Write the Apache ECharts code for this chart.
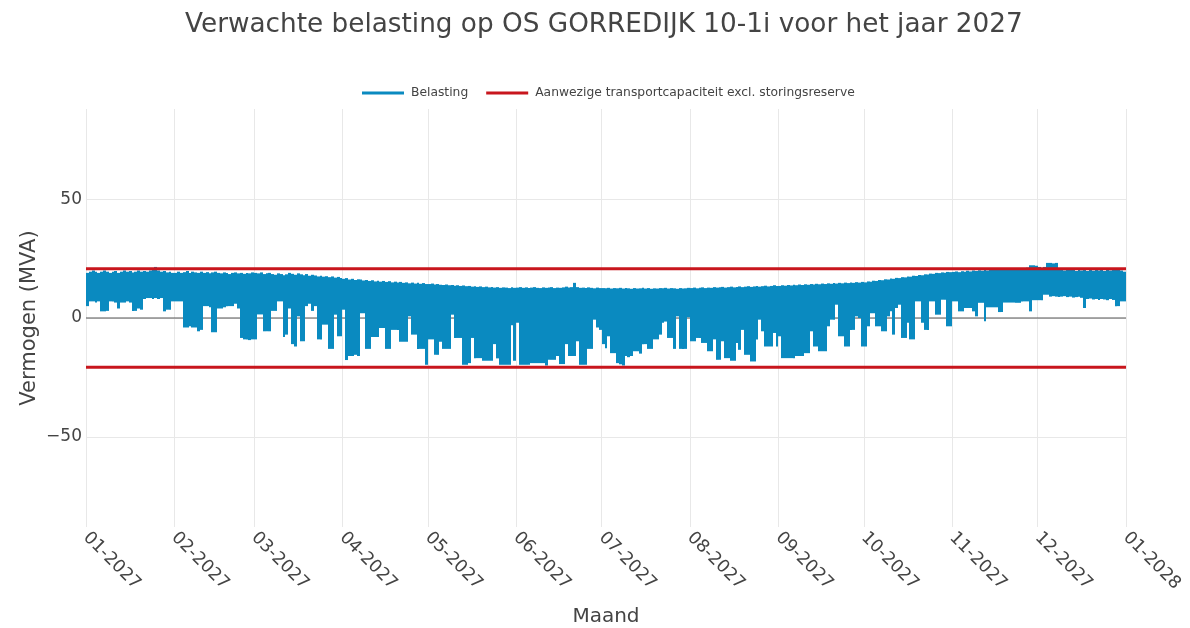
<!DOCTYPE html>
<html>
<head>
<meta charset="utf-8">
<title>Verwachte belasting OS GORREDIJK 10-1i 2027</title>
<script src="https://cdn.jsdelivr.net/npm/echarts@6.0.0/dist/echarts.min.js"></script>
<style>
  html, body { margin: 0; padding: 0; background: #ffffff; }
  #chart { width: 1190px; height: 628px; }
</style>
</head>
<body>
<div id="chart"></div>
<script>
  // dag-index van de eerste dag van elke maand (0 = 1 jan 2027)
  var monthStarts = [0, 31, 59, 90, 120, 151, 181, 212, 243, 273, 304, 334, 365]
  var monthLabels = ['01-2027', '02-2027', '03-2027', '04-2027', '05-2027', '06-2027',
    '07-2027', '08-2027', '09-2027', '10-2027', '11-2027', '12-2027', '01-2028']
  var yTicks = [-50, 0, 50]

  // hoogste belasting per dag (MVA)
  var dailyMax = [
    // jan
    19, 19.5, 20, 19.5, 19, 19.5, 20, 19.5, 19, 19.5, 19.8, 19, 19.5, 20, 19.5, 19.8, 19.2, 19.5, 20, 19.5, 19.8, 19.5, 20, 21, 21.5, 20, 19.5, 19.8, 19.2, 19.5, 19,
    // feb
    19, 19.5, 19, 19.3, 19.8, 19, 19.5, 19.2, 19, 19.5, 19, 19.3, 18.8, 19.2, 19.5, 19, 18.8, 19.2, 19, 18.5, 19, 19.2, 18.8, 19, 18.6, 19, 18.8, 19.2,
    // mrt
    19, 18.8, 19.2, 18.5, 18.8, 19, 18.5, 18.2, 18.8, 18.5, 18, 18.4, 19, 18.6, 18.2, 18.8, 18.4, 18, 18.5, 17.8, 18.2, 17.9, 17.5, 17.8, 17.4, 17.6, 17.2, 17.5, 17, 17.3, 16.8,
    // apr
    16.5, 16.8, 16.2, 16.5, 16, 16.3, 16.2, 15.8, 16, 15.6, 15.9, 15.4, 15.7, 15.3, 15.6, 15.2, 15.5, 15, 15.3, 14.9, 15.2, 14.8, 15, 14.6, 14.9, 14.5, 14.8, 14.4, 14.7, 14.3,
    // mei
    14.3, 14.5, 14.1, 14.3, 14, 13.9, 14.1, 13.8, 13.9, 13.6, 13.8, 13.5, 13.7, 13.4, 13.5, 13.2, 13.4, 13.1, 13.3, 13, 13.2, 12.9, 13.1, 12.8, 13, 12.7, 12.9, 12.8, 12.6, 12.9, 12.7,
    // jun
    12.8, 13, 12.7, 12.9, 12.6, 12.8, 13, 12.7, 12.6, 12.9, 12.7, 12.8, 13, 12.6, 12.8, 12.7, 12.9, 13.2, 12.8, 13, 14.8, 13, 12.7, 12.8, 12.6, 12.9, 12.7, 12.5, 12.8, 12.6,
    // jul
    12.6, 12.5, 12.7, 12.4, 12.6, 12.5, 12.7, 12.4, 12.6, 12.5, 12.3, 12.6, 12.4, 12.5, 12.7, 12.4, 12.6, 12.3, 12.5, 12.4, 12.6, 12.5, 12.7, 12.4, 12.6, 12.5, 12.3, 12.6, 12.4, 12.5, 12.7,
    // aug
    12.6, 12.8, 12.5, 12.7, 12.9, 12.6, 12.8, 12.7, 13, 12.8, 12.9, 13.1, 12.8, 13, 13.2, 12.9, 13.1, 13.3, 13, 13.2, 13.4, 13.1, 13.3, 13.5, 13.2, 13.4, 13.6, 13.3, 13.5, 13.8, 13.5,
    // sep
    13.5, 13.8, 13.6, 13.9, 13.7, 14, 13.8, 14.1, 13.9, 14.2, 14, 14.3, 14.1, 14.4, 14.2, 14.5, 14.3, 14.6, 14.4, 14.7, 14.5, 14.8, 14.6, 14.9, 14.7, 15, 14.8, 15.1, 14.9, 15.2,
    // okt
    15, 15.4, 15.3, 15.7, 15.6, 16, 15.9, 16.3, 16.2, 16.6, 16.5, 16.9, 16.8, 17.2, 17.1, 17.5, 17.4, 17.8, 17.7, 18.1, 18, 18.4, 18.3, 18.7, 18.6, 19, 18.9, 19.2, 19.1, 19.4, 19.3,
    // nov
    19.4, 19.6, 19.3, 19.7, 19.5, 19.9, 19.6, 20, 19.8, 20.1, 19.9, 20.3, 20, 20.4, 20.2, 20.5, 20.3, 20.6, 20.4, 20.8, 20.5, 20.9, 21, 20.7, 21.1, 20.9, 21.2, 22.2, 22.2, 22,
    // dec
    21.5, 21, 21.5, 23.2, 23.2, 23, 23.2, 21, 20.5, 20, 20.8, 20.2, 20.5, 19.8, 20.3, 20, 20.6, 19.8, 20.2, 19.9, 20.5, 20, 20.3, 19.8, 20.5, 20, 21, 20.2, 21, 20, 19.5
  ]

  // laagste belasting per dag (MVA), negatief = teruglevering
  var dailyMin = [
    // jan
    5, 7, 7, 6.5, 7, 2.8, 2.8, 3, 7, 7, 6.5, 4, 6.5, 6.5, 7, 6.5, 3, 3, 4, 3.5, 8, 8.4, 8.4, 8, 8.4, 8, 8.4, 2.8, 3.5, 3.5, 7,
    // feb
    7, 7, 7, -4, -4, -3.5, -4, -4, -5.6, -5, 5, 5, 4.5, -6, -6, 4, 4, 4.5, 5, 5, 5, 6, 4, -8.4, -9, -9, -9.3, -9,
    // mrt
    -9, 1.5, 1.5, -5.6, -5.6, -5.6, 3, 3, 7, 7, -8, -7, 4, -11, -12, 0.7, -9.8, -9.8, 5, 6, 3, 5, -9, -9, -2.8, -2.8, -13, -13, 1.4, -7.7, -7.7,
    // apr
    3.5, -17.7, -16, -16, -15.5, -16, 2, 2, -13, -13, -8, -8, -8, -4.2, -4.2, -13, -13, -5, -5, -5, -10, -10, -10, 0.7, -7, -7, -13, -13, -13, -19.7,
    // mei
    -9, -9, -15.5, -15.5, -10, -13, -13, -13, 1.4, -8.4, -8.4, -8.4, -19.7, -19.7, -19, -8.4, -16.9, -16.9, -16.9, -18, -18, -18, -18, -11, -17, -19.7, -19.7, -19.7, -19.7, -3, -18,
    // jun
    -2, -19.7, -19.7, -19.7, -19.7, -19, -19, -19, -19, -19, -20, -17.6, -17.6, -17.6, -16, -19.4, -19.4, -11, -16, -16, -16, -9.8, -19.7, -19.7, -19.7, -13, -13, -0.7, -4, -5,
    // jul
    -11, -12.7, -7.7, -14.8, -14.8, -19, -19.5, -20, -16, -16.5, -16, -14, -14, -15, -11, -11, -13, -13, -9, -9, -7, -2, -1.5, -8.4, -8.4, -13, 0.7, -13, -13, -13, 0.3,
    // aug
    -9.8, -9.8, -8.4, -8.4, -10.5, -10.5, -14, -14, -9, -17.6, -17.6, -9.8, -16.9, -16.9, -18, -18, -10.5, -13.4, -5, -15.5, -15.5, -18.3, -18.3, -9, -0.7, -5.6, -12, -12, -12, -6.3, -12,
    // sep
    -7.7, -16.9, -16.9, -16.9, -16.9, -16.9, -16, -16, -16, -14.8, -14.8, -5.6, -12, -12, -14, -14, -14, -3.5, -0.7, -0.7, 5.6, -7.7, -7.7, -12, -12, -5, -5, 0.7, 0, -12,
    // okt
    -12, -3.5, 2, 2, -3.5, -3.5, -5.6, -5.6, 0.7, 2.8, -7, 4.2, 5.6, -8.4, -8.4, -2, -9, -9, 7, 7, -2, -5, -5, 7, 7, 1.4, 1.4, 7.7, 7.7, -3.5, -3.5,
    // nov
    7, 7, 2.8, 2.8, 4.2, 4.2, 4.2, 2.8, 0.7, 6.4, 6.4, -1.4, 4.5, 4.5, 4.5, 4.5, 2.5, 2.5, 6.5, 6.5, 6.5, 6.5, 6.4, 6.4, 7, 7, 7, 2.8, 7.5, 7.5,
    // dec
    7.5, 7.5, 9.8, 9.8, 9, 9.2, 9, 8.8, 9, 9.2, 8.8, 9, 8.6, 8.8, 9, 8.5, 4.2, 8, 8.2, 7.8, 8, 7.6, 8, 7.8, 7.5, 8, 7.6, 5, 5, 7, 7
  ]

  // aanwezige transportcapaciteit excl. storingsreserve (MVA)
  var capacityLevels = [20.7, -20.7]

  var fontFamily = '"DejaVu Sans", Verdana, sans-serif'
  var textColor = '#444444'
  var blue = '#0a8ac0'
  var red = '#c8161d'

  // per dag: [dag, minimum, maximum]
  var belasting = []
  for (var d = 0; d < dailyMax.length; d++) {
    belasting.push([d, dailyMin[d], dailyMax[d]])
  }
  var dayEnd = monthStarts[monthStarts.length - 1]

  // dagband van min tot max als blokje, op hele pixels zodat er geen naden ontstaan
  function renderDay (params, api) {
    var day = api.value(0)
    var topLeft = api.coord([day, api.value(2)])
    var bottomRight = api.coord([day + 1, api.value(1)])
    var x0 = Math.round(topLeft[0])
    var x1 = Math.round(bottomRight[0])
    return {
      type: 'rect',
      shape: {
        x: x0,
        y: topLeft[1],
        width: x1 - x0,
        height: bottomRight[1] - topLeft[1]
      },
      style: { fill: api.visual('color') }
    }
  }

  var chart = echarts.init(document.getElementById('chart'), null, { renderer: 'canvas' })
  chart.setOption({
    animation: false,
    backgroundColor: '#ffffff',
    textStyle: { fontFamily: fontFamily },
    title: {
      text: 'Verwachte belasting op OS GORREDIJK 10-1i voor het jaar 2027',
      left: 180,
      top: 7,
      textStyle: { fontFamily: fontFamily, fontSize: 26.3, fontWeight: 'normal', color: textColor }
    },
    legend: {
      left: 357,
      top: 82,
      itemWidth: 42,
      itemHeight: 3,
      itemGap: 18,
      icon: 'rect',
      data: ['Belasting', 'Aanwezige transportcapaciteit excl. storingsreserve'],
      textStyle: { fontFamily: fontFamily, fontSize: 12.3, color: textColor, padding: [0, 0, 0, 2] }
    },
    grid: { left: 86, right: 64, top: 109, bottom: 101, outerBoundsMode: 'none' },
    xAxis: {
      type: 'value',
      min: 0,
      max: dayEnd,
      name: 'Maand',
      nameLocation: 'middle',
      nameGap: 80,
      nameMoveOverlap: false,
      nameTextStyle: { fontFamily: fontFamily, fontSize: 20, color: textColor },
      axisLine: { show: false },
      axisTick: { show: false, customValues: monthStarts },
      axisLabel: {
        customValues: monthStarts,
        rotate: -45,
        margin: 8,
        fontSize: 17.5,
        color: textColor,
        formatter: function (v) {
          return monthLabels[monthStarts.indexOf(v)]
        }
      },
      splitLine: { show: true, lineStyle: { color: '#e8e8e8', width: 1 } }
    },
    yAxis: {
      type: 'value',
      min: -88,
      max: 88,
      name: 'Vermogen (MVA)',
      nameLocation: 'middle',
      nameGap: 46,
      nameMoveOverlap: false,
      nameTextStyle: { fontFamily: fontFamily, fontSize: 21, color: textColor },
      axisLine: { show: false },
      axisTick: { show: false, customValues: yTicks },
      axisLabel: {
        customValues: yTicks,
        margin: 4,
        fontSize: 17,
        color: textColor,
        formatter: function (v) {
          return v < 0 ? '\u2212' + Math.abs(v) : String(v)
        }
      },
      splitLine: { show: true, lineStyle: { color: '#e8e8e8', width: 1 } }
    },
    series: [
      {
        name: 'nullijn',
        type: 'line',
        silent: true,
        symbol: 'none',
        z: 1,
        data: [[0, 0], [dayEnd, 0]],
        lineStyle: { color: '#555555', width: 1 }
      },
      {
        name: 'Belasting',
        type: 'custom',
        z: 2,
        itemStyle: { color: blue },
        encode: { x: 0, y: [1, 2] },
        renderItem: renderDay,
        data: belasting
      },
      {
        name: 'Aanwezige transportcapaciteit excl. storingsreserve',
        type: 'line',
        symbol: 'none',
        z: 3,
        color: red,
        data: [[0, capacityLevels[0]], [dayEnd, capacityLevels[0]]],
        lineStyle: { color: red, width: 3 }
      },
      {
        name: 'Aanwezige transportcapaciteit excl. storingsreserve',
        type: 'line',
        symbol: 'none',
        z: 3,
        color: red,
        data: [[0, capacityLevels[1]], [dayEnd, capacityLevels[1]]],
        lineStyle: { color: red, width: 3 }
      }
    ]
  })
</script>
</body>
</html>
